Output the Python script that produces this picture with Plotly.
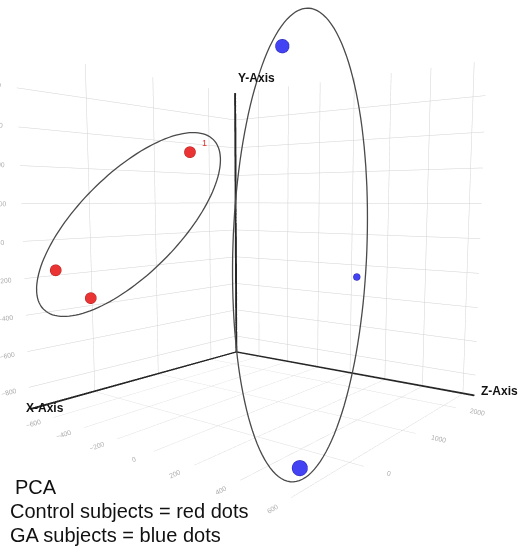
import numpy as np
import plotly.graph_objects as go

# ---------------- data (PCA scores) ----------------
# plotly x = "X-Axis", plotly y = "Z-Axis", plotly z = "Y-Axis"
control_x = [1603, -489, -39]
control_y = [542, -169, -353]
control_z = [-760, -760, -760]
control_lbl = ["1", "", ""]

ga_x = [361, 2540, -692]
ga_y = [949, -277, -837]
ga_z = [204, 33, 586]

x_rng = [2550, -850]   # X-Axis (reversed)
z_rng = [-770, 655]    # Z-Axis
y_rng = [-925, 990]    # Y-Axis (vertical)

# ---------------- style ----------------
control_px = [13, 13, 13]
ga_px = [16, 8, 18]
W, H = 529, 548
AXC = "#262626"

fig = go.Figure()

fig.add_trace(go.Scatter3d(
    x=control_x, y=control_z, z=control_y, mode="markers",
    marker=dict(size=control_px, color="#ea3434", line=dict(color="#b31a1a", width=1), opacity=1),
    hoverinfo="skip", showlegend=False))
fig.add_trace(go.Scatter3d(
    x=ga_x, y=ga_z, z=ga_y, mode="markers",
    marker=dict(size=ga_px, color="#4343f3", line=dict(color="#2222aa", width=1), opacity=1),
    hoverinfo="skip", showlegend=False))

# axis lines along the three back edges (thin prisms inside the box)
def prism(xa, ya, za):
    xs, ys, zs = [], [], []
    for k in range(8):
        xs.append(xa[k & 1]); ys.append(ya[(k >> 1) & 1]); zs.append(za[(k >> 2) & 1])
    faces = [(0, 1, 3), (0, 3, 2), (4, 5, 7), (4, 7, 6), (0, 1, 5), (0, 5, 4),
             (2, 3, 7), (2, 7, 6), (0, 2, 6), (0, 6, 4), (1, 3, 7), (1, 7, 5)]
    i, j, k = zip(*faces)
    return go.Mesh3d(x=xs, y=ys, z=zs, i=i, j=j, k=k, color=AXC, opacity=1,
                     flatshading=True, hoverinfo="skip", showlegend=False,
                     lighting=dict(ambient=1, diffuse=0, specular=0, fresnel=0, roughness=1))

xc0, zc0, yc0 = x_rng[0], z_rng[0], y_rng[0]
tx, tz, ty = 20, 8, 8
fig.add_trace(prism([xc0 - tx, xc0], [zc0, zc0 + tz], [yc0, y_rng[1]]))   # Y-Axis
fig.add_trace(prism([xc0, x_rng[1]], [zc0, zc0 + tz], [yc0, yc0 + ty]))   # X-Axis
fig.add_trace(prism([xc0 - tx, xc0], [zc0, z_rng[1]], [yc0, yc0 + ty]))   # Z-Axis

ax_common = dict(showbackground=False, gridcolor="#d2d2d2", gridwidth=1,
                 zeroline=False, showline=False, showspikes=False,
                 tickfont=dict(color="#a9a9a9", size=9, family="Liberation Sans"),
                 title=dict(text=""), ticks="")
lab_font = dict(size=12, color="#111111", family="Liberation Sans")

fig.update_layout(
    width=W, height=H, margin=dict(l=0, r=0, t=0, b=0),
    paper_bgcolor="white", plot_bgcolor="white", hovermode=False,
    scene=dict(
        domain=dict(x=[0, 1], y=[0, 1]),
        xaxis=dict(range=x_rng, dtick=1000, **ax_common),
        yaxis=dict(range=z_rng, dtick=200, **ax_common),
        zaxis=dict(range=y_rng, dtick=200, **ax_common),
        aspectmode="manual", aspectratio=dict(x=0.9547, y=1, z=1.0430),
        camera=dict(eye=dict(x=1.5639, y=1.2352, z=0.10),
                    center=dict(x=-0.0019, y=0.0172, z=-0.120),
                    up=dict(x=0, y=0, z=1),
                    projection=dict(type="perspective")),
        annotations=[
            dict(x=xc0, y=zc0, z=y_rng[1], text="<b>Y-Axis</b>", showarrow=False,
                 xanchor="left", yanchor="bottom", xshift=1, yshift=6, font=lab_font),
            dict(x=x_rng[1], y=zc0, z=yc0, text="<b>X-Axis</b>", showarrow=False,
                 xanchor="left", yanchor="middle", xshift=-6, yshift=2, font=lab_font),
            dict(x=xc0, y=z_rng[1], z=yc0, text="<b>Z-Axis</b>", showarrow=False,
                 xanchor="left", yanchor="bottom", xshift=4, yshift=-4, font=lab_font),
            dict(x=control_x[0], y=control_z[0], z=control_y[0], text=control_lbl[0],
                 showarrow=False, xshift=15, yshift=9,
                 font=dict(size=9, color="#e03030", family="Liberation Sans")),
        ],
    ),
)

# group ellipses drawn over the scene (pixel geometry -> paper coords)
def ellipse_path(cx, cy, a, b, ang_deg, n=140):
    t = np.linspace(0, 2 * np.pi, n)
    th = np.radians(ang_deg)
    px = cx + a * np.cos(t) * np.cos(th) - b * np.sin(t) * np.sin(th)
    py = cy + a * np.cos(t) * np.sin(th) + b * np.sin(t) * np.cos(th)
    pts = [(x / W, 1 - y / H) for x, y in zip(px, py)]
    return "M " + " L ".join(f"{x:.4f},{y:.4f}" for x, y in pts) + " Z"

fig.add_shape(type="path", xref="paper", yref="paper",
              path=ellipse_path(128.5, 224.5, 120, 50, -45),
              line=dict(color="#4a4a4a", width=1.3))
fig.add_shape(type="path", xref="paper", yref="paper",
              path=ellipse_path(300, 245, 237, 67, -88),
              line=dict(color="#4a4a4a", width=1.3))

for txt, xpx, ypx in [("PCA", 13, 487), ("Control subjects = red dots", 8, 511),
                      ("GA subjects = blue dots", 8, 535)]:
    fig.add_annotation(x=xpx / W, y=1 - ypx / H, xref="paper", yref="paper",
                       text=txt, showarrow=False, xanchor="left", yanchor="middle",
                       font=dict(size=20, color="#111111", family="Liberation Sans"))

fig.write_html("out.html", config={"displayModeBar": False},
               post_script="document.body.style.margin='0px';")
